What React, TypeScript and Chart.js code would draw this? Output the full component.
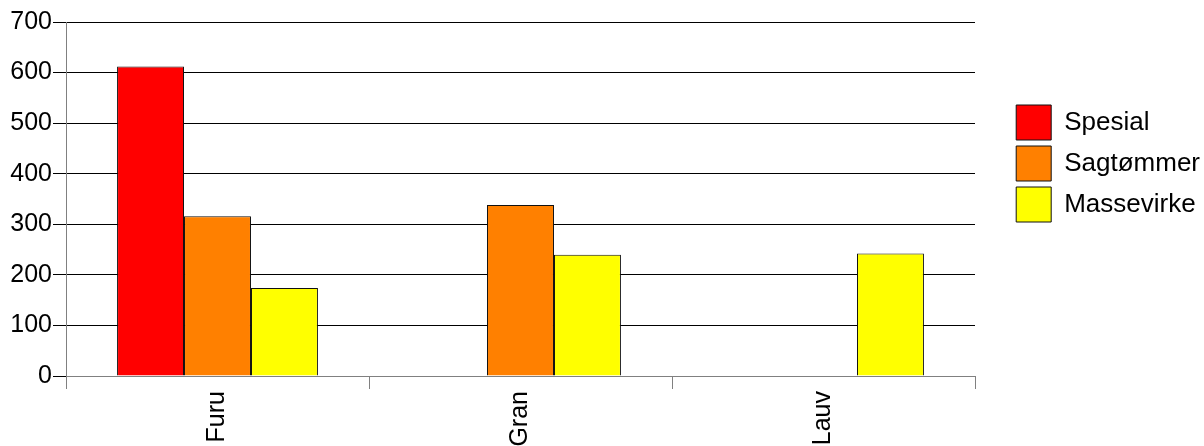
import React, { useEffect, useRef } from "react";
import { Chart, registerables } from "chart.js";

Chart.register(...registerables);

const categories = ["Furu", "Gran", "Lauv"];
const seriesNames = ["Spesial", "Sagtømmer", "Massevirke"];
const spesial = [612, null, null];
const sagtommer = [316, 338, null];
const massevirke = [174, 240, 242];
const seriesColors = ["#FF0000", "#FF8000", "#FFFF00"];
const yTicks = [0, 100, 200, 300, 400, 500, 600, 700];

const W = 1204;
const H = 446;
const PLOT_RIGHT = 975;
const RIGHT_PAD = -6;

export default function App() {
  const ref = useRef<HTMLCanvasElement | null>(null);

  useEffect(() => {
    if (!ref.current) return;
    Chart.defaults.font.family = "'Liberation Sans', Arial, sans-serif";
    const values = [spesial, sagtommer, massevirke];
    const chart = new Chart(ref.current, {
      type: "bar",
      data: {
        labels: categories,
        datasets: seriesNames.map((name, i) => ({
          label: name,
          data: values[i],
          backgroundColor: seriesColors[i],
          borderColor: "#111",
          borderWidth: 1,
          categoryPercentage: 0.663,
          barPercentage: 1,
          yAxisID: "y",
        })),
      },
      options: {
        animation: false,
        responsive: false,
        devicePixelRatio: 1,
        layout: { padding: { top: 22, left: 0, right: RIGHT_PAD, bottom: 0 } },
        plugins: {
          tooltip: { enabled: false },
          legend: {
            position: "right",
            align: "start",
            title: {
              display: true,
              text: " ",
              color: "rgba(0,0,0,0)",
              font: { size: 10 },
              padding: { top: 65, bottom: 0 },
            },
            labels: {
              boxWidth: 35,
              boxHeight: 35,
              padding: 6,
              color: "#000",
              font: { size: 26 },
            },
          },
        },
        scales: {
          x: {
            offset: true,
            grid: {
              offset: true,
              drawOnChartArea: false,
              drawTicks: true,
              tickLength: 13,
              color: "#808080",
            },
            border: { display: true, color: "#808080" },
            ticks: {
              color: "#000",
              font: { size: 25 },
              minRotation: 90,
              maxRotation: 90,
              autoSkip: false,
              padding: 2,
            },
            afterFit: (s: any) => {
              s.height = 70;
            },
          },
          y: {
            position: "left",
            min: 0,
            max: 700,
            afterBuildTicks: (s: any) => {
              s.ticks = yTicks.map((v) => ({ value: v }));
            },
            grid: {
              color: "#000",
              tickLength: 13,
              drawTicks: true,
            },
            border: { display: true, color: "#808080" },
            ticks: {
              color: "#000",
              font: { size: 25 },
              padding: 1,
            },
            afterFit: (s: any) => {
              s.width = 66;
            },
          },
          y2: {
            position: "right",
            display: true,
            grid: { display: false },
            border: { display: false },
            ticks: { display: false },
            afterFit: (s: any) => {
              const lw = s.chart.legend ? s.chart.legend.width : 200;
              s.width = Math.max(0, W - RIGHT_PAD - PLOT_RIGHT - lw);
            },
          },
        },
      },
    } as any);
    return () => chart.destroy();
  }, []);

  return (
    <div style={{ position: "absolute", left: 0, top: 0, width: W, height: H, background: "#fff", overflow: "hidden" }}>
      <canvas ref={ref} width={W} height={H} style={{ width: W, height: H, display: "block" }} />
    </div>
  );
}
